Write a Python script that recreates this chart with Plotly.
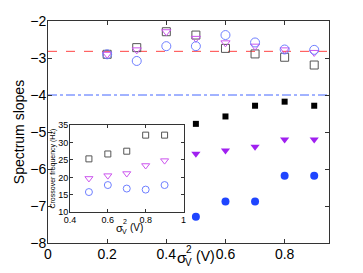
import plotly.graph_objects as go

x_main = [0.2, 0.3, 0.4, 0.5, 0.6, 0.7, 0.8, 0.9]
open_sq = [-2.9, -2.72, -2.29, -2.38, -2.74, -2.89, -2.98, -3.19]
open_tri = [-2.9, -2.78, -2.29, -2.47, -2.59, -2.68, -2.78, -2.85]
open_circ = [-2.9, -3.08, -2.68, -2.68, -2.38, -2.58, -2.77, -2.78]

x_fill = [0.5, 0.6, 0.7, 0.8, 0.9]
fill_sq = [-4.78, -4.58, -4.29, -4.18, -4.29]
fill_tri = [-5.59, -5.5, -5.4, -5.2, -5.2]
fill_circ = [-7.29, -6.88, -6.88, -6.18, -6.18]

ref_red = -2.82
ref_blue = -4.0

x_ins = [0.5, 0.6, 0.7, 0.8, 0.9]
ins_sq = [25.3, 26.7, 27.5, 32.1, 32.1]
ins_tri = [19.7, 20.5, 21.1, 23.4, 24.8]
ins_circ = [15.8, 17.8, 16.8, 16.5, 17.8]

main_yticks = [-2, -3, -4, -5, -6, -7, -8]
main_xticks = [0, 0.2, 0.4, 0.6, 0.8]
ins_xticks = [0.4, 0.6, 0.8, 1]
ins_yticks = [10, 15, 20, 25, 30, 35]

GRAY = "#555555"
VIOLET = "#cc55ee"
LBLUE = "#6f7fff"
PURPLE = "#a020f0"
BLUE = "#1f45ff"

# page body has an 8px margin; compensate so the plot lands where the reference's does
OFF = 8
W, H = 363 - OFF, 273 - OFF
PL, PR, PT, PB = 48, 329, 21, 243  # plot area in reference pixels

def px(x):
    return (x - PL) / (PR - PL)

def py(y):
    return (PB - y) / (PB - PT)

fig = go.Figure()

fig.add_trace(go.Scatter(x=[0, 0.95], y=[ref_red, ref_red], mode="lines",
                         line=dict(color="#ff4444", dash="dash", width=1), showlegend=False))
fig.add_trace(go.Scatter(x=[0, 0.95], y=[ref_blue, ref_blue], mode="lines",
                         line=dict(color="#4466ff", dash="dashdot", width=1), showlegend=False))

def m(sym, color, size, filled):
    if filled:
        return dict(symbol=sym, color=color, size=size, line=dict(width=0))
    return dict(symbol=sym + "-open", color=color, size=size, line=dict(width=1, color=color))

fig.add_trace(go.Scatter(x=x_main, y=open_sq, mode="markers", marker=m("square", GRAY, 8, False), showlegend=False))
fig.add_trace(go.Scatter(x=x_main, y=open_tri, mode="markers", marker=m("triangle-down", VIOLET, 8, False), showlegend=False))
fig.add_trace(go.Scatter(x=x_main, y=open_circ, mode="markers", marker=m("circle", LBLUE, 9, False), showlegend=False))
fig.add_trace(go.Scatter(x=x_fill, y=fill_sq, mode="markers", marker=m("square", "black", 6, True), showlegend=False))
fig.add_trace(go.Scatter(x=x_fill, y=fill_tri, mode="markers", marker=m("triangle-down", PURPLE, 8, True), showlegend=False))
fig.add_trace(go.Scatter(x=x_fill, y=fill_circ, mode="markers", marker=m("circle", BLUE, 8, True), showlegend=False))

fig.add_trace(go.Scatter(x=x_ins, y=ins_sq, mode="markers", marker=m("square", GRAY, 6, False), xaxis="x2", yaxis="y2", showlegend=False))
fig.add_trace(go.Scatter(x=x_ins, y=ins_tri, mode="markers", marker=m("triangle-down", VIOLET, 7, False), xaxis="x2", yaxis="y2", showlegend=False))
fig.add_trace(go.Scatter(x=x_ins, y=ins_circ, mode="markers", marker=m("circle", LBLUE, 7, False), xaxis="x2", yaxis="y2", showlegend=False))

axcommon = dict(showgrid=False, zeroline=False, showline=True, linecolor="#333333", linewidth=1,
                mirror="ticks", ticks="inside", tickcolor="#333333", automargin=False)

ix0, ix1 = px(70), px(183.5)
iy0, iy1 = py(212.3), py(125)

fig.update_layout(
    width=W, height=H,
    margin=dict(l=PL - OFF, r=363 - PR, t=PT - OFF, b=273 - PB, autoexpand=False),
    paper_bgcolor="white", plot_bgcolor="white",
    font=dict(family="Liberation Sans, Arial, sans-serif", color="black"),
    xaxis=dict(range=[0, 0.95], tickvals=main_xticks, ticktext=["0", "0.2", "0.4", "0.6", "0.8"],
               ticklen=4, tickfont=dict(size=14), ticklabelstandoff=-2, **axcommon),
    yaxis=dict(range=[-8, -2], tickvals=main_yticks, ticklen=4, tickfont=dict(size=14),
               ticklabelstandoff=-2,
               title=dict(text="Spectrum slopes", font=dict(size=14), standoff=2), **axcommon),
    xaxis2=dict(domain=[ix0, ix1], anchor="y2", range=[0.4, 1], tickvals=ins_xticks,
                ticktext=["0.4", "0.6", "0.8", "1"], ticklen=3, tickfont=dict(size=9),
                ticklabelstandoff=-1, **axcommon),
    yaxis2=dict(domain=[iy0, iy1], anchor="x2", range=[10, 35], tickvals=ins_yticks,
                ticklen=3, tickfont=dict(size=9), ticklabelstandoff=-1,
                title=dict(text="Crossover frequency (Hz)", font=dict(size=7), standoff=1), **axcommon),
)

fig.add_shape(type="rect", xref="paper", yref="paper", x0=ix0, x1=ix1, y0=iy0, y1=iy1,
              fillcolor="white", line=dict(width=0), layer="below")

def lab(text, x, y, size):
    fig.add_annotation(text=text, xref="paper", yref="paper", x=px(x), y=py(y),
                       showarrow=False, font=dict(size=size), xanchor="center", yanchor="middle")

# main x-axis label (σ with stacked super/subscript)
lab("σ", 182, 257, 15)
lab("2", 188.5, 250, 10)
lab("V", 188, 262, 10)
lab("(V)", 205, 256, 14)
# inset x-axis label
lab("σ", 119, 228, 11)
lab("2", 124.5, 221.5, 7)
lab("V", 124.5, 231.5, 7)
lab("(V)", 136, 227.5, 10)

fig.write_html("out.html")
